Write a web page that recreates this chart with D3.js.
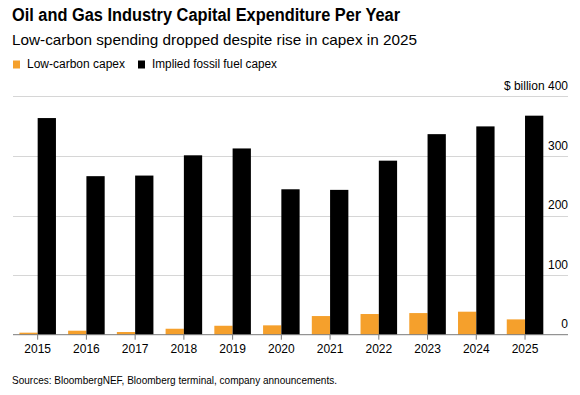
<!DOCTYPE html>
<html>
<head>
<meta charset="utf-8">
<script src="https://cdn.jsdelivr.net/npm/d3@7"></script>
<style>
	body { margin: 0; background: #fff; }
	text { font-family: "Liberation Sans", Arial, sans-serif; fill: #000; }
</style>
</head>
<body>
<div id="chart"></div>
<script>
const years = ['2015', '2016', '2017', '2018', '2019', '2020', '2021', '2022', '2023', '2024', '2025'];
const lowCarbon = [3.4, 6.7, 4.5, 10, 15, 15.7, 31.3, 34.7, 36.3, 38.6, 25.7];
const fossil = [363.5, 266, 267, 301, 312.5, 244, 243, 292, 336.5, 349.5, 367.5];
const yTicks = [0, 100, 200, 300, 400];
const seriesNames = ['Low-carbon capex', 'Implied fossil fuel capex'];
const seriesColors = ['#f5a02c', '#000000'];

const width = 580;
const height = 395;

const svg = d3.select('#chart')
	.append('svg')
	.attr('width', width)
	.attr('height', height);

// titles
svg.append('text')
	.attr('x', 12)
	.attr('y', 21)
	.attr('font-size', 18)
	.attr('font-weight', 'bold')
	.attr('textLength', 388)
	.attr('lengthAdjust', 'spacingAndGlyphs')
	.text('Oil and Gas Industry Capital Expenditure Per Year');

svg.append('text')
	.attr('x', 12)
	.attr('y', 45)
	.attr('font-size', 15)
	.attr('textLength', 405)
	.attr('lengthAdjust', 'spacingAndGlyphs')
	.text('Low-carbon spending dropped despite rise in capex in 2025');

// legend
const legendX = [13, 138];
const legendW = [98, 125];
const legend = svg.append('g');
seriesNames.forEach((name, i) => {
	legend.append('rect')
		.attr('x', legendX[i])
		.attr('y', 60.5)
		.attr('width', 7)
		.attr('height', 8)
		.attr('fill', seriesColors[i]);
	legend.append('text')
		.attr('x', legendX[i] + 14)
		.attr('y', 68)
		.attr('font-size', 12)
		.attr('textLength', legendW[i])
		.attr('lengthAdjust', 'spacingAndGlyphs')
		.text(name);
});

// scales
const x = d3.scaleBand()
	.domain(years)
	.range([13.3, 549.4])
	.paddingInner(0.25)
	.paddingOuter(0.125);

const y = d3.scaleLinear()
	.domain([0, 400])
	.range([334.7, 96.3]);

const gridRight = 568;

// gridlines
svg.append('g')
	.selectAll('line')
	.data(yTicks.filter((d) => d > 0))
	.join('line')
	.attr('x1', 13)
	.attr('x2', gridRight)
	.attr('y1', (d) => Math.round(y(d)) + 0.5)
	.attr('y2', (d) => Math.round(y(d)) + 0.5)
	.attr('stroke', '#d6d6d6')
	.attr('stroke-width', 1);

// y labels
svg.append('g')
	.selectAll('text')
	.data(yTicks)
	.join('text')
	.attr('x', gridRight)
	.attr('y', (d) => y(d) - 6.3)
	.attr('text-anchor', 'end')
	.attr('font-size', 12)
	.text((d) => d === 400 ? '$ billion 400' : d);

// bars
const bw = x.bandwidth() / 2;
const groups = svg.append('g')
	.selectAll('g')
	.data(years)
	.join('g')
	.attr('transform', (d) => `translate(${x(d)},0)`);

groups.append('rect')
	.attr('x', 0)
	.attr('width', bw)
	.attr('y', (d, i) => y(lowCarbon[i]))
	.attr('height', (d, i) => y(0) - y(lowCarbon[i]))
	.attr('fill', seriesColors[0]);

groups.append('rect')
	.attr('x', bw)
	.attr('width', bw)
	.attr('y', (d, i) => y(fossil[i]))
	.attr('height', (d, i) => y(0) - y(fossil[i]))
	.attr('fill', seriesColors[1]);

// x axis
const xAxis = svg.append('g')
	.attr('transform', `translate(0,${y(0)})`);

xAxis.append('line')
	.attr('x1', 13)
	.attr('x2', gridRight)
	.attr('stroke', '#7a7a7a')
	.attr('stroke-width', 1);

xAxis.selectAll('line.tick')
	.data(years)
	.join('line')
	.attr('class', 'tick')
	.attr('x1', (d) => x(d) + x.bandwidth() / 2)
	.attr('x2', (d) => x(d) + x.bandwidth() / 2)
	.attr('y1', 0)
	.attr('y2', 5)
	.attr('stroke', '#7a7a7a');

xAxis.selectAll('text')
	.data(years)
	.join('text')
	.attr('x', (d) => x(d) + x.bandwidth() / 2)
	.attr('y', 18)
	.attr('text-anchor', 'middle')
	.attr('font-size', 12)
	.text((d) => d);

// source
svg.append('text')
	.attr('x', 12)
	.attr('y', 384)
	.attr('font-size', 10.5)
	.attr('textLength', 325)
	.attr('lengthAdjust', 'spacingAndGlyphs')
	.text('Sources: BloombergNEF, Bloomberg terminal, company announcements.');
</script>
</body>
</html>
